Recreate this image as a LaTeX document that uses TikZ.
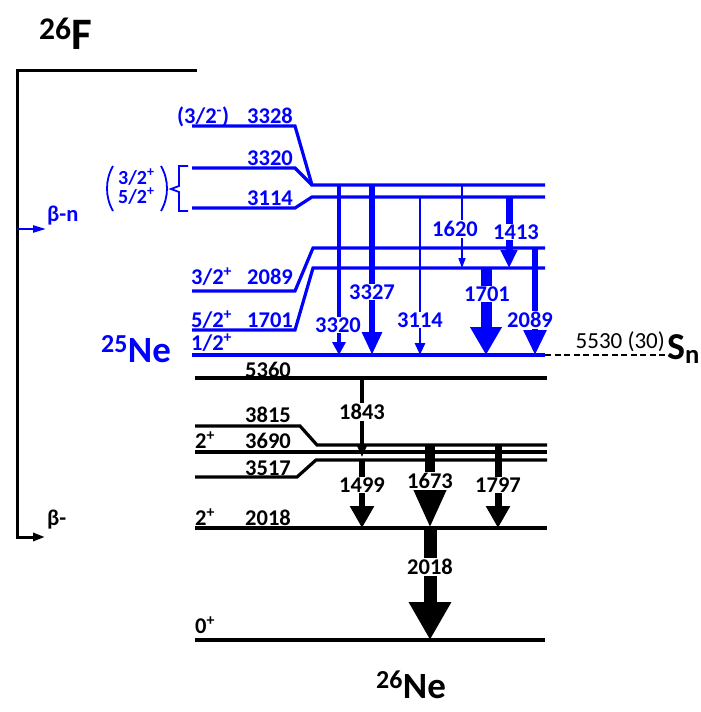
\documentclass[tikz,border=0pt]{standalone}
\usepackage{fontspec}
\setmainfont{Carlito}
\usetikzlibrary{arrows.meta}

\newcommand{\lvlfont}{\fontsize{22.5}{24}\selectfont\bfseries}
\newcommand{\nucfont}[1]{\fontsize{#1}{#1}\selectfont\bfseries}

\tikzset{
  lvl/.style={line width=3.2pt},
  blvl/.style={lvl, blue},
  elab/.style={font=\lvlfont, inner sep=0pt, anchor=base east},
  slab/.style={font=\lvlfont, inner sep=0pt, anchor=base west},
  glab/.style={font=\lvlfont, fill=white, inner sep=1pt},
  nuc/.style={font=\nucfont{#1}, inner sep=0pt, anchor=base west},
}

\begin{document}
\begin{tikzpicture}[x=1pt,y=-1pt]
  \useasboundingbox (0,0) rectangle (701,712);

  % parent and decay branches
  \node[nuc=45] (F26) at (39,49) {\textsuperscript{26}F};
  \coordinate (bn) at (46,229);
  \coordinate (bm) at (45,537);
  \draw[line width=3pt, -{Triangle[width=8pt,length=12pt]}] (197,70) -- (17,70) -- (17,537) -- (bm);
  \draw[blue, line width=2.2pt, -{Triangle[width=7pt,length=13pt]}] (17,229) -- (bn);
  \node[font=\lvlfont, text=blue, anchor=base west, inner sep=0pt] (bnlab) at (47,221) {β-n};
  \node[font=\lvlfont, anchor=base west, inner sep=0pt] (bmlab) at (47,525) {β-};

  % 25Ne levels
  \draw[blvl] (192,126) -- (295,126) -- (312,185) -- (545,185);
  \draw[blvl] (192,168) -- (295,168) -- (312,185);
  \draw[blvl] (192,208) -- (295,208) -- (312,197) -- (545,197);
  \draw[blvl] (192,291) -- (295,291) -- (313,248) -- (545,248);
  \draw[blvl] (192,330) -- (295,330) -- (313,268) -- (545,268);
  \draw[blvl] (192,355) -- (545,355);
  \draw[line width=2.2pt, dash pattern=on 6pt off 3.5pt] (545,355) -- (665,355);

  \begin{scope}[text=blue]
    \node[slab] (s3328) at (177,123) {(3/2\textsuperscript{-})};
    \node[elab] (e3328) at (293,123) {3328};
    \node[elab] (e3320) at (293,165) {3320};
    \node[elab] (e3114) at (293,205) {3114};
    \node[slab] (s2089) at (191,284) {3/2\textsuperscript{+}};
    \node[elab] (e2089) at (293,284) {2089};
    \node[slab] (s1701) at (191,327) {5/2\textsuperscript{+}};
    \node[elab] (e1701) at (293,327) {1701};
    \node[slab] (s0) at (191,350) {1/2\textsuperscript{+}};
    \node[font=\fontsize{20}{20}\selectfont\bfseries, inner sep=0pt, align=left,
          anchor=base west] (sab) at (118,203) {3/2\textsuperscript{+}\\[-1pt]5/2\textsuperscript{+}};
  \end{scope}
  \draw[blue, line width=1.8pt] (113,166) .. controls (105,180) and (105,197) .. (113,211);
  \draw[blue, line width=1.8pt] (161,166) .. controls (169,180) and (169,197) .. (161,211);
  \draw[blue, line width=1.8pt] (188,166) -- (179,166) -- (179,186) -- (171,189) -- (179,192) -- (179,211) -- (188,211);
  \node[nuc=37, text=blue] (Ne25) at (101,362) {\textsuperscript{25}Ne};

  % separation energy
  \node[font=\fontsize{23}{25}\selectfont, anchor=base east, inner sep=0pt] (sn) at (665,348) {5530 (30)};
  \node[nuc=38] (Sn) at (667,359) {S\textsubscript{n}};

  % 25Ne gammas
  \foreach \gx/\ga/\gb/\gw/\hw/\hl/\lx/\ly/\e in {
      339/185/355/3.8/13/13/338/325/3320,
      372/185/355/6/19/23/372/292/3327,
      420/197/355/2.8/10/12/420/320/3114,
      462/185/268/1.5/7/10/455/229/1620,
      509/197/268/7/16/18/516/232/1413,
      486/268/355/11/30/28/487/294/1701,
      535/248/355/5.5/22/25/530/320/2089} {
    \draw[blue, line width=\gw pt, -{Triangle[width=\hw pt,length=\hl pt]}] (\gx,\ga) -- (\gx,\gb);
    \node[glab, text=blue] (g\e) at (\lx,\ly) {\e};
  }

  % 26Ne levels
  \draw[lvl] (195,378) -- (547,378);
  \draw[lvl] (195,426) -- (300,426) -- (317,445) -- (547,445);
  \draw[lvl, line width=4.2pt] (195,452) -- (547,452);
  \draw[lvl] (195,477) -- (297,477) -- (316,460) -- (547,460);
  \draw[lvl] (195,528) -- (300,528);
  \draw[lvl, line width=4.6pt] (300,528) -- (547,528);
  \draw[lvl] (195,640) -- (545,640);

  \node[elab] (e5360) at (291,377) {5360};
  \node[elab] (e3815) at (291,422) {3815};
  \node[slab] (s3690) at (195,448) {2\textsuperscript{+}};
  \node[elab] (e3690) at (291,448) {3690};
  \node[elab] (e3517) at (291,475) {3517};
  \node[slab] (s2018) at (195,525) {2\textsuperscript{+}};
  \node[elab] (e2018) at (291,525) {2018};
  \node[slab] (s0g) at (195,633) {0\textsuperscript{+}};
  \node[nuc=37] (Ne26) at (376,698) {\textsuperscript{26}Ne};

  % 26Ne gammas
  \foreach \gx/\ga/\gb/\gw/\hw/\hl/\lx/\ly/\e in {
      362/378/457/4.5/9/11/362/412/1843,
      362/460/528/6.5/23/22/362/485/1499,
      430/445/528/10/30/38/430/481/1673,
      498/445/528/7/23/22/498/485/1797,
      430/528/640/13/40/38/430/567/2018} {
    \draw[line width=\gw pt, -{Triangle[width=\hw pt,length=\hl pt]}] (\gx,\ga) -- (\gx,\gb);
    \node[glab] (g\e) at (\lx,\ly) {\e};
  }
\end{tikzpicture}
\end{document}
